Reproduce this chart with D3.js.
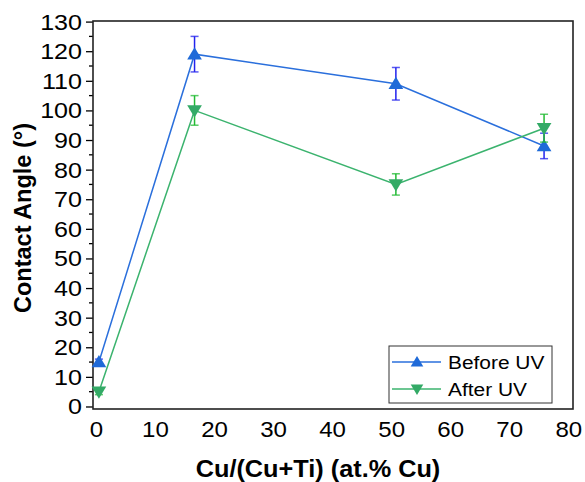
<!DOCTYPE html>
<html><head><meta charset="utf-8">
<script src="https://cdn.jsdelivr.net/npm/d3@7"></script>
<style>body{margin:0;background:#fff}svg{display:block}text{font-family:"Liberation Sans",Arial,sans-serif}</style>
</head><body><div id="chart"></div>
<script>
const xValues = [0.5, 16.7, 50.8, 75.9];
const beforeUV = [15, 119, 109, 88];
const beforeErr = [1, 6, 5.5, 4.3];
const afterUV = [5, 100, 75, 94];
const afterErr = [1, 5, 3.6, 4.7];
const seriesNames = ["Before UV", "After UV"];
const xTicks = [0, 10, 20, 30, 40, 50, 60, 70, 80];
const yTicks = [0, 10, 20, 30, 40, 50, 60, 70, 80, 90, 100, 110, 120, 130];

const W = 585, H = 482;
const L = 93, R = 573, T = 21, B = 409;
const svg = d3.select("#chart").append("svg").attr("width", W).attr("height", H);
const x = d3.scaleLinear().domain([-0.5, 80.8]).range([L, R]);
const y = d3.scaleLinear().domain([-0.85, 130.2]).range([B, T]);

// y axis
const yAxis = d3.axisLeft(y).tickValues(yTicks).tickSize(7).tickPadding(3).tickFormat(d3.format("d"));
const gy = svg.append("g").attr("transform", `translate(${L},0)`).call(yAxis);
gy.select(".domain").remove();
gy.selectAll(".tick line").attr("stroke", "#000").attr("stroke-width", 1.3);
gy.selectAll(".tick text").attr("font-size", 22).attr("fill", "#000").attr("x", 0).attr("dy", "0.34em")
  .attr("transform", "translate(-11,0) scale(1.14,1)");
// minor ticks
const minor = d3.range(5, 130, 10);
svg.append("g").selectAll("line").data(minor).join("line")
  .attr("x1", L - 4).attr("x2", L).attr("y1", d => y(d)).attr("y2", d => y(d))
  .attr("stroke", "#000").attr("stroke-width", 1.3);

// x axis labels (no ticks)
const xAxis = d3.axisBottom(x).tickValues(xTicks).tickSize(0).tickPadding(13).tickFormat(d3.format("d"));
const gx = svg.append("g").attr("transform", `translate(0,${B})`).call(xAxis);
gx.select(".domain").remove();
gx.selectAll(".tick text").attr("font-size", 21.5).attr("fill", "#000").attr("transform", "scale(1.12,1)");

// frame
svg.append("rect").attr("x", L).attr("y", T).attr("width", R - L).attr("height", B - T)
  .attr("fill", "none").attr("stroke", "#222").attr("stroke-width", 1.6);

// titles
svg.append("text").attr("transform", "translate(318,477) scale(1.1,1)").attr("text-anchor", "middle")
  .attr("font-size", 23).attr("font-weight", "bold").text("Cu/(Cu+Ti) (at.% Cu)");
svg.append("text").attr("transform", "translate(31,218) rotate(-90)").attr("text-anchor", "middle")
  .attr("font-size", 23.5).attr("font-weight", "bold").text("Contact Angle (°)");

const series = [
  {name: seriesNames[0], vals: beforeUV, err: beforeErr, line: "#2a6fdc", mark: "#1f6ad8", errC: "#2222ee", up: true},
  {name: seriesNames[1], vals: afterUV, err: afterErr, line: "#3bb36e", mark: "#33aa66", errC: "#22bb33", up: false}
];
const tri = (up, s) => up ? `M0,${-s}L${s*1.05},${s*0.75}L${-s*1.05},${s*0.75}Z` : `M0,${s}L${s*1.05},${-s*0.75}L${-s*1.05},${-s*0.75}Z`;

const line = d3.line().x(d => x(d[0])).y(d => y(d[1]));
series.forEach(s => {
  const pts = xValues.map((xv, i) => [xv, s.vals[i], s.err[i]]);
  svg.append("path").datum(pts).attr("d", line).attr("fill", "none").attr("stroke", s.line).attr("stroke-width", 1.5);
  const g = svg.append("g");
  pts.forEach(p => {
    const cx = x(p[0]);
    g.append("line").attr("x1", cx).attr("x2", cx).attr("y1", y(p[1] - p[2])).attr("y2", y(p[1] + p[2])).attr("stroke", s.errC).attr("stroke-width", 1.5);
    [p[1] - p[2], p[1] + p[2]].forEach(v => g.append("line").attr("x1", cx - 4).attr("x2", cx + 4).attr("y1", y(v)).attr("y2", y(v)).attr("stroke", s.errC).attr("stroke-width", 1.5).attr("opacity", 0.75));
    g.append("path").attr("d", tri(s.up, 7)).attr("transform", `translate(${cx},${y(p[1])})`).attr("fill", s.mark);
  });
});

// legend
const lg = svg.append("g");
lg.append("rect").attr("x", 389).attr("y", 346).attr("width", 163).attr("height", 57).attr("fill", "#fff").attr("stroke", "#333").attr("stroke-width", 1);
series.forEach((s, i) => {
  const yy = 362 + i * 27;
  lg.append("line").attr("x1", 392).attr("x2", 441).attr("y1", yy).attr("y2", yy).attr("stroke", s.line).attr("stroke-width", 1.5);
  lg.append("path").attr("d", tri(s.up, 6)).attr("transform", `translate(417,${yy})`).attr("fill", s.mark);
  lg.append("text").attr("transform", `translate(448,${yy + 7}) scale(1.1,1)`).attr("font-size", 19).attr("fill", "#000").text(s.name);
});
</script></body></html>
